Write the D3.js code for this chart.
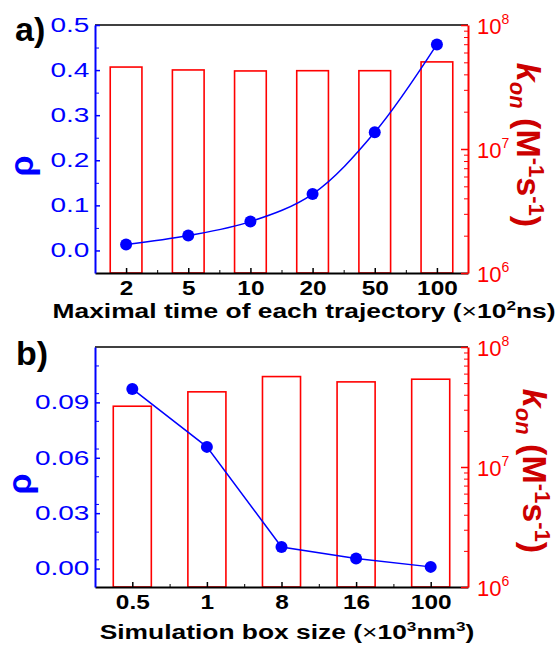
<!DOCTYPE html>
<html>
<head>
<meta charset="utf-8">
<script src="https://cdn.jsdelivr.net/npm/d3@7"></script>
<style>
body { margin: 0; background: #fff; }
text { font-family: Arial, "Liberation Sans", sans-serif; }
</style>
</head>
<body>
<div id="chart"></div>
<script>
const width = 560,
height = 646;

// panel a) : maximal time of each trajectory
const timeCats = ["2", "5", "10", "20", "50", "100"];
const timeRho = [0.013, 0.033, 0.064, 0.125, 0.262, 0.457];
const timeKon = [4.58e7, 4.34e7, 4.26e7, 4.28e7, 4.28e7, 5.04e7];
const timeRhoTicks = [0, 0.1, 0.2, 0.3, 0.4, 0.5];

// panel b) : simulation box size
const boxCats = ["0.5", "1", "8", "16", "100"];
const boxRho = [0.0973, 0.0659, 0.0117, 0.0054, 0.0009];
const boxKon = [3.21e7, 4.23e7, 5.67e7, 5.12e7, 5.39e7];
const boxRhoTicks = [0, 0.03, 0.06, 0.09];

const konMajor = [1e6, 1e7, 1e8];

const blue = "#0000ff", red = "#ff0000", darkRed = "#cc0000";

const svg = d3.select("#chart")
.append("svg")
.attr("width", width)
.attr("height", height);

function panel(opt) {
const {top, bottom, left, right, cats, rho, kon, rhoTicks, rhoDomain, rhoMinorStep, rhoFmt, curve} = opt;
const g = svg.append("g");

let x = d3.scaleLinear([0.5, cats.length + 0.5], [left, right]);
let y = d3.scaleLinear(rhoDomain, [bottom, top]);
let yk = d3.scaleLog([1e6, 1e8], [bottom, top]);
const bw = (x(2) - x(1)) * 0.51;
const idx = cats.map((d, i) => i + 1);

// bars (kon, log axis)
g.append("g")
.selectAll("rect")
.data(kon)
.join("rect")
.attr("x", (d, i) => x(i + 1) - bw / 2)
.attr("y", d => yk(d))
.attr("width", bw)
.attr("height", d => yk(1e6) - yk(d))
.attr("fill", "none")
.attr("stroke", red)
.attr("stroke-width", 1.6);

// top frame
g.append("line")
.attr("x1", left).attr("x2", right)
.attr("y1", top).attr("y2", top)
.attr("stroke", "#000").attr("stroke-width", 1.6);

// bottom axis
const xAxis = g.append("g")
.attr("transform", `translate(0,${bottom})`)
.call(d3.axisBottom(x).tickValues(idx).tickSize(-5).tickSizeOuter(0).tickFormat(i => cats[i - 1]));
g.append("g")
.attr("transform", `translate(0,${bottom})`)
.call(d3.axisBottom(x).tickValues(d3.range(1.5, cats.length, 1)).tickSize(-3).tickSizeOuter(0).tickFormat(""))
.call(a => a.select(".domain").remove());
xAxis.select(".domain").attr("stroke-width", 2);
xAxis.selectAll(".tick line").attr("stroke-width", 1.5);
xAxis.selectAll(".tick text")
.attr("y", 22).attr("dy", null)
.attr("font-size", 20).attr("font-weight", "bold").attr("fill", "#000")
.attr("transform", "scale(1.22,1)");

// left axis (rho)
const minor = d3.range(rhoDomain[0] + rhoMinorStep, rhoDomain[1] + 1e-9, rhoMinorStep)
.filter(v => !rhoTicks.some(t => Math.abs(t - v) < 1e-9));
const yAxis = g.append("g")
.attr("transform", `translate(${left},0)`)
.call(d3.axisLeft(y).tickValues(rhoTicks).tickSize(-5).tickSizeOuter(0).tickPadding(4).tickFormat(rhoFmt));
g.append("g")
.attr("transform", `translate(${left},0)`)
.call(d3.axisLeft(y).tickValues(minor).tickSize(-4).tickSizeOuter(0).tickFormat(""))
.call(a => a.select(".domain").remove())
.selectAll("line").attr("stroke", blue);
yAxis.select(".domain").attr("stroke", blue).attr("stroke-width", 2);
yAxis.selectAll(".tick line").attr("stroke", blue).attr("stroke-width", 1.5);
yAxis.selectAll(".tick text")
.attr("fill", blue).attr("font-size", 20)
.attr("transform", "scale(1.4,1)");

// right axis (kon, log)
const konMinor = d3.range(6, 8).flatMap(e => d3.range(2, 10).map(m => m * Math.pow(10, e)));
const kAxis = g.append("g")
.attr("transform", `translate(${right},0)`)
.call(d3.axisRight(yk).tickValues(konMajor).tickSize(-7).tickSizeOuter(0).tickFormat(""));
g.append("g")
.attr("transform", `translate(${right},0)`)
.call(d3.axisRight(yk).tickValues(konMinor).tickSize(-4).tickSizeOuter(0).tickFormat(""))
.call(a => a.select(".domain").remove())
.selectAll("line").attr("stroke", red);
kAxis.select(".domain").attr("stroke", red).attr("stroke-width", 2);
kAxis.selectAll(".tick line").attr("stroke", red).attr("stroke-width", 1.5);

const kLab = g.append("g")
.selectAll("text")
.data(konMajor)
.join("text")
.attr("x", right + 9)
.attr("y", d => yk(d) + 9)
.attr("fill", red)
.attr("font-size", 22);
kLab.append("tspan").text("10");
kLab.append("tspan").attr("dy", -10).attr("font-size", 14).text(d => Math.round(Math.log10(d)));

// rho line + dots
g.append("path")
.datum(rho)
.attr("fill", "none")
.attr("stroke", blue)
.attr("stroke-width", 1.5)
.attr("d", d3.line().x((d, i) => x(i + 1)).y(d => y(d)).curve(curve));

g.append("g")
.selectAll("circle")
.data(rho)
.join("circle")
.attr("cx", (d, i) => x(i + 1))
.attr("cy", d => y(d))
.attr("r", 6)
.attr("fill", blue);

return g;
}

panel({
top: 25, bottom: 273, left: 95, right: 468,
cats: timeCats, rho: timeRho, kon: timeKon,
rhoTicks: timeRhoTicks, rhoDomain: [-0.05, 0.5], rhoMinorStep: 0.05,
rhoFmt: d3.format(".1f"), curve: d3.curveCatmullRom.alpha(0.5)
});

panel({
top: 347, bottom: 587, left: 95, right: 468,
cats: boxCats, rho: boxRho, kon: boxKon,
rhoTicks: boxRhoTicks, rhoDomain: [-0.01, 0.12], rhoMinorStep: 0.015,
rhoFmt: d3.format(".2f"), curve: d3.curveLinear
});

// panel letters
svg.append("text").attr("x", 15).attr("y", 41)
.attr("font-size", 34).attr("font-weight", "bold").text("a)");
svg.append("text").attr("x", 16).attr("y", 365)
.attr("font-size", 34).attr("font-weight", "bold").text("b)");

// x titles (stretched wide like the original)
function xTitle(cx, cy, main, exp1, unit, exp2) {
const t = svg.append("text")
.attr("transform", `translate(${cx},${cy}) scale(1.32,1)`)
.attr("text-anchor", "middle")
.attr("font-size", 20).attr("font-weight", "bold");
t.append("tspan").text(main + " (");
t.append("tspan").attr("font-weight", "normal").text("\u00d7");
t.append("tspan").text("10");
t.append("tspan").attr("dy", -8).attr("font-size", 13).text(exp1);
t.append("tspan").attr("dy", 8).text(unit);
if (exp2) {
t.append("tspan").attr("dy", -8).attr("font-size", 13).text(exp2);
t.append("tspan").attr("dy", 8).text(")");
} else {
t.append("tspan").text(")");
}
}
xTitle(304, 318, "Maximal time of each trajectory", "2", "ns", null);
xTitle(287, 639, "Simulation box size", "3", "nm", "3");

// y titles
function rhoTitle(cx, cy) {
svg.append("text")
.attr("transform", `translate(${cx},${cy}) rotate(-90)`)
.attr("text-anchor", "middle")
.attr("font-size", 34).attr("font-weight", "bold")
.attr("fill", blue).text("\u03c1");
}
rhoTitle(33, 166);
rhoTitle(31, 484);

function konTitle(cx, cy) {
const t = svg.append("text")
.attr("transform", `translate(${cx},${cy}) rotate(90)`)
.attr("text-anchor", "middle")
.attr("font-size", 34).attr("font-weight", "bold")
.attr("fill", darkRed);
t.append("tspan").attr("font-style", "italic").text("k");
t.append("tspan").attr("font-style", "italic").attr("font-size", 22).attr("dy", 7).text("on");
t.append("tspan").attr("dy", -7).text(" (M");
t.append("tspan").attr("font-size", 22).attr("dy", -12).text("-1");
t.append("tspan").attr("dy", 12).text("s");
t.append("tspan").attr("font-size", 22).attr("dy", -12).text("-1");
t.append("tspan").attr("dy", 12).text(")");
}
konTitle(517, 145);
konTitle(523, 471);
</script>
</body>
</html>
